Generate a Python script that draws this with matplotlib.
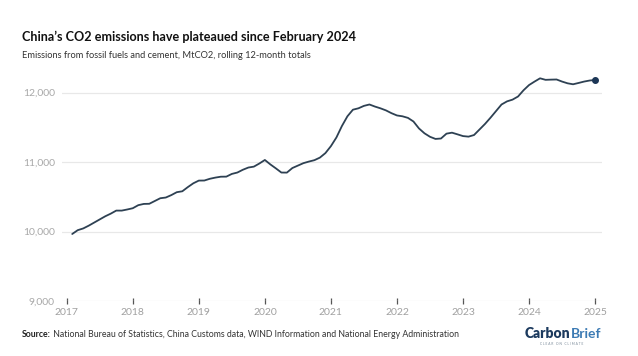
import numpy as np
import matplotlib
matplotlib.use("Agg")
import matplotlib.pyplot as plt

# rolling 12-month CO2 totals (MtCO2), Jan..Dec of each year
e2017 = [9965, 10020, 10045, 10085, 10130, 10175, 10220, 10258, 10302, 10302, 10318, 10336]
e2018 = [10380, 10398, 10400, 10440, 10480, 10490, 10525, 10567, 10580, 10640, 10695, 10734]
e2019 = [10735, 10760, 10777, 10790, 10791, 10830, 10850, 10890, 10922, 10935, 10980, 11031]
e2020 = [10967, 10910, 10850, 10849, 10915, 10950, 10985, 11008, 11028, 11065, 11130, 11230]
e2021 = [11355, 11520, 11660, 11755, 11775, 11810, 11830, 11800, 11775, 11745, 11705, 11672]
e2022 = [11660, 11637, 11585, 11485, 11415, 11365, 11334, 11340, 11410, 11424, 11400, 11375]
e2023 = [11367, 11390, 11470, 11550, 11640, 11735, 11830, 11875, 11900, 11945, 12035, 12110]
e2024 = [12160, 12207, 12185, 12188, 12190, 12160, 12135, 12121, 12140, 12160, 12175, 12183]

years = [2017, 2018, 2019, 2020, 2021, 2022, 2023, 2024, 2025]
yticks = [9000, 10000, 11000, 12000]

emissions = np.array(e2017 + e2018 + e2019 + e2020 + e2021 + e2022 + e2023 + e2024)
# each monthly value sits at the end of its month
dates = 2017 + np.arange(1, len(emissions) + 1) / 12

W, H = 638, 356
fig = plt.figure(figsize=(W / 100, H / 100), dpi=100)
plt.rcParams['font.family'] = ['Lato', 'DejaVu Sans']

ax = fig.add_axes([61.7 / W, 1 - 301 / H, 540 / W, (301 - 71.85) / H])
ax.set_xlim(2016.924, 2025.1)
ax.set_ylim(9000, 12300)

for s in ax.spines.values():
    s.set_visible(False)
ax.set_yticks(yticks)
ax.set_yticklabels([f"{v:,}" for v in yticks])
ax.grid(axis='y', color='#e8e8e8', lw=0.9)
ax.set_axisbelow(True)
ax.tick_params(axis='y', length=0, pad=5, labelsize=7.5, labelcolor='#a8a8a8')
ax.set_xticks(years)
ax.tick_params(axis='x', direction='inout', length=4, width=0.9, color='#555555',
               pad=3, labelsize=7.5, labelcolor='#a0a0a0')

ax.plot(dates, emissions, color='#2e4153', lw=1.3, solid_capstyle='round', zorder=3)
ax.plot(dates[-1], emissions[-1], 'o', color='#1c3656', ms=4, zorder=4)

fig.text(22 / W, 1 - 37 / H, "China\u2019s CO2 emissions have plateaued since February 2024",
         fontsize=9.1, fontweight='bold', color='#111111', va='center')
fig.text(22 / W, 1 - 56 / H, "Emissions from fossil fuels and cement, MtCO2, rolling 12-month totals",
         fontsize=6.7, color='#333333', va='center')

src = fig.text(22 / W, 1 - 337 / H, "Source:", fontsize=6.3, fontweight='bold',
               color='#222222', va='baseline')
fig.canvas.draw()
ax.annotate(" National Bureau of Statistics, China Customs data, WIND Information and National Energy Administration",
            xy=(1, 0), xycoords=src, va='bottom', ha='left', fontsize=6.3, color='#333333')

logo = fig.text(525 / W, 1 - 338 / H, "Carbon", fontsize=10, fontweight='heavy',
                color='#1c3a5e', va='baseline')
fig.canvas.draw()
ax.annotate("Brief", xy=(1, 0), xycoords=logo, va='bottom', ha='left',
            fontsize=10, fontweight='bold', color='#3d7bb4')
fig.text(562 / W, 1 - 344 / H, "C L E A R   O N   C L I M A T E", fontsize=2.3,
         color='#7a8a99', ha='center', va='center')

fig.savefig("out.png", dpi=100, facecolor='white')
